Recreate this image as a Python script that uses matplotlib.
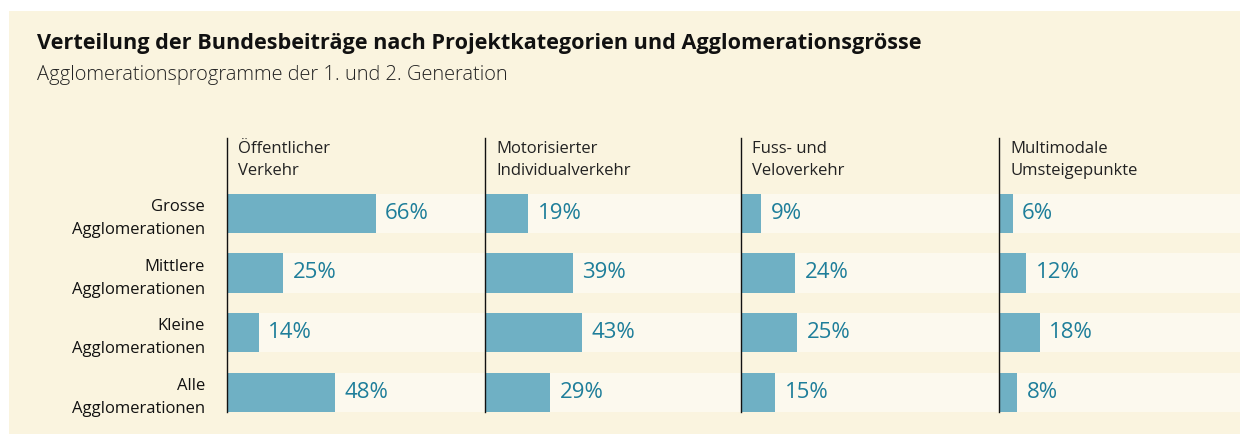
import matplotlib
matplotlib.use('Agg')
import matplotlib.pyplot as plt

categories = ["Öffentlicher\nVerkehr", "Motorisierter\nIndividualverkehr",
              "Fuss- und\nVeloverkehr", "Multimodale\nUmsteigepunkte"]
groups = ["Grosse\nAgglomerationen", "Mittlere\nAgglomerationen",
          "Kleine\nAgglomerationen", "Alle\nAgglomerationen"]
shares = [
    [66, 25, 14, 48],   # Öffentlicher Verkehr
    [19, 39, 43, 29],   # Motorisierter Individualverkehr
    [9, 24, 25, 15],    # Fuss- und Veloverkehr
    [6, 12, 18, 8],     # Multimodale Umsteigepunkte
]

BG = '#FAF4DF'
STRIPE = '#FCF9EE'
BAR = '#6FB0C4'
TEAL = '#1E7E9A'

plt.rcParams['font.family'] = ['Open Sans', 'DejaVu Sans']

W, H = 1240, 434
fig = plt.figure(figsize=(W / 100, H / 100), dpi=100)
fig.patch.set_facecolor('white')
# cream panel
fig.add_artist(plt.Rectangle((9 / W, 0), 1, 1 - 11 / H, transform=fig.transFigure,
                             facecolor=BG, edgecolor='none', zorder=0))

fig.text(37 / W, 1 - 49 / H,
         "Verteilung der Bundesbeiträge nach Projektkategorien und Agglomerationsgrösse",
         fontsize=15.6, fontweight='bold', color='#111111', va='baseline')
fig.text(37 / W, 1 - 80 / H, "Agglomerationsprogramme der 1. und 2. Generation",
         fontsize=14.4, fontweight='light', color='#222222', va='baseline')

px_per_pct = 2.25
edges = [227, 485, 741, 999, 1240]
top, bottom = 138, 412
row_px = 59.5
bar_h = 39 / row_px
y = list(range(len(groups)))
ytop = -(213.5 - top) / row_px
ybot = (len(groups) - 1) + (bottom - 392) / row_px

for i, (cat, vals) in enumerate(zip(categories, shares)):
    x0, x1 = edges[i], edges[i + 1]
    ax = fig.add_axes([x0 / W, 1 - bottom / H, (x1 - x0) / W, (bottom - top) / H])
    ax.set_facecolor('none')
    ax.set_xlim(0, (x1 - x0) / px_per_pct)
    ax.set_ylim(ybot, ytop)
    ax.barh(y, [ax.get_xlim()[1]] * len(y), height=bar_h, color=STRIPE, zorder=1)
    bars = ax.barh(y, vals, height=bar_h, color=BAR, zorder=2)
    ax.bar_label(bars, labels=[f"{v}%" for v in vals], padding=7,
                 color=TEAL, fontsize=16, zorder=3)
    for s in ['top', 'right', 'bottom']:
        ax.spines[s].set_visible(False)
    ax.spines['left'].set_color('#111111')
    ax.spines['left'].set_linewidth(1.0)
    ax.spines['left'].set_zorder(4)
    ax.set_xticks([])
    ax.text(11 / (x1 - x0), 1.0 - 3 / (bottom - top), cat, transform=ax.transAxes,
            va='top', ha='left', fontsize=12, color='#222222', linespacing=1.5)
    if i == 0:
        ax.set_yticks(y, groups)
        ax.tick_params(axis='y', length=0, pad=16, labelsize=12, labelcolor='#111111')
        for t in ax.get_yticklabels():
            t.set_linespacing(1.55)
    else:
        ax.set_yticks([])

fig.savefig('out.png', dpi=100, facecolor='white')
